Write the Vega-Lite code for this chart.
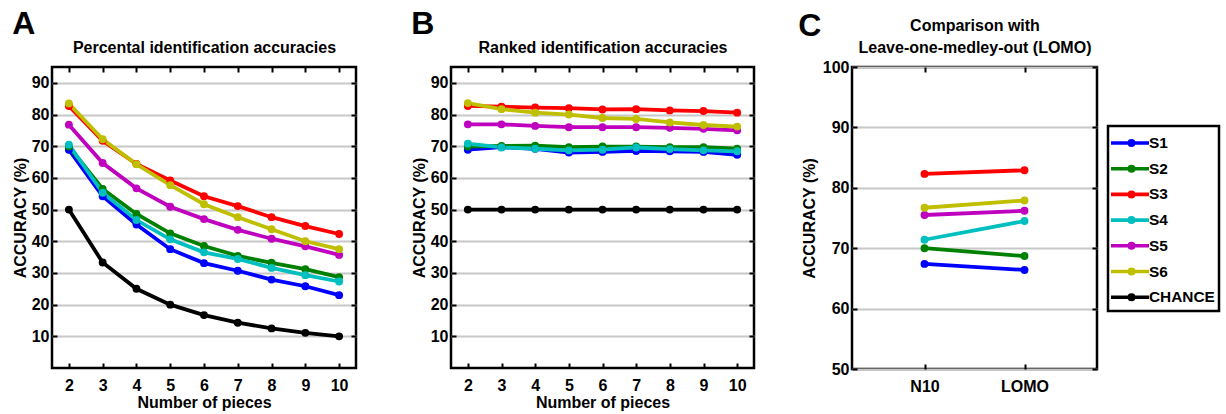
{
  "$schema": "https://vega.github.io/schema/vega-lite/v6.json",
  "padding": {"left": 10, "top": 6, "right": 2, "bottom": 2},
  "datasets": {
    "A": [
      {"n":2,"s":"S1","v":68.9},{"n":3,"s":"S1","v":54.2},{"n":4,"s":"S1","v":45.3},{"n":5,"s":"S1","v":37.5},{"n":6,"s":"S1","v":33.1},{"n":7,"s":"S1","v":30.7},{"n":8,"s":"S1","v":27.9},{"n":9,"s":"S1","v":25.8},{"n":10,"s":"S1","v":23.0},
      {"n":2,"s":"S2","v":69.9},{"n":3,"s":"S2","v":56.5},{"n":4,"s":"S2","v":48.6},{"n":5,"s":"S2","v":42.5},{"n":6,"s":"S2","v":38.5},{"n":7,"s":"S2","v":35.4},{"n":8,"s":"S2","v":33.2},{"n":9,"s":"S2","v":31.2},{"n":10,"s":"S2","v":28.7},
      {"n":2,"s":"S3","v":82.7},{"n":3,"s":"S3","v":71.7},{"n":4,"s":"S3","v":64.4},{"n":5,"s":"S3","v":59.2},{"n":6,"s":"S3","v":54.2},{"n":7,"s":"S3","v":51.1},{"n":8,"s":"S3","v":47.6},{"n":9,"s":"S3","v":44.8},{"n":10,"s":"S3","v":42.3},
      {"n":2,"s":"S4","v":70.5},{"n":3,"s":"S4","v":55.3},{"n":4,"s":"S4","v":46.7},{"n":5,"s":"S4","v":40.6},{"n":6,"s":"S4","v":36.5},{"n":7,"s":"S4","v":34.4},{"n":8,"s":"S4","v":31.6},{"n":9,"s":"S4","v":29.3},{"n":10,"s":"S4","v":27.3},
      {"n":2,"s":"S5","v":76.8},{"n":3,"s":"S5","v":64.7},{"n":4,"s":"S5","v":56.7},{"n":5,"s":"S5","v":50.9},{"n":6,"s":"S5","v":47.0},{"n":7,"s":"S5","v":43.6},{"n":8,"s":"S5","v":40.8},{"n":9,"s":"S5","v":38.4},{"n":10,"s":"S5","v":35.7},
      {"n":2,"s":"S6","v":83.5},{"n":3,"s":"S6","v":72.2},{"n":4,"s":"S6","v":64.3},{"n":5,"s":"S6","v":57.7},{"n":6,"s":"S6","v":51.7},{"n":7,"s":"S6","v":47.6},{"n":8,"s":"S6","v":43.8},{"n":9,"s":"S6","v":40.0},{"n":10,"s":"S6","v":37.5},
      {"n":2,"s":"CHANCE","v":50},{"n":3,"s":"CHANCE","v":33.3},{"n":4,"s":"CHANCE","v":25},{"n":5,"s":"CHANCE","v":20},{"n":6,"s":"CHANCE","v":16.7},{"n":7,"s":"CHANCE","v":14.3},{"n":8,"s":"CHANCE","v":12.5},{"n":9,"s":"CHANCE","v":11.1},{"n":10,"s":"CHANCE","v":10}
    ],
    "B": [
      {"n":2,"s":"S1","v":68.9},{"n":3,"s":"S1","v":69.7},{"n":4,"s":"S1","v":69.2},{"n":5,"s":"S1","v":68.0},{"n":6,"s":"S1","v":68.2},{"n":7,"s":"S1","v":68.5},{"n":8,"s":"S1","v":68.4},{"n":9,"s":"S1","v":68.2},{"n":10,"s":"S1","v":67.3},
      {"n":2,"s":"S2","v":69.9},{"n":3,"s":"S2","v":70.1},{"n":4,"s":"S2","v":70.2},{"n":5,"s":"S2","v":69.7},{"n":6,"s":"S2","v":69.9},{"n":7,"s":"S2","v":69.9},{"n":8,"s":"S2","v":69.7},{"n":9,"s":"S2","v":69.7},{"n":10,"s":"S2","v":69.2},
      {"n":2,"s":"S3","v":82.7},{"n":3,"s":"S3","v":82.5},{"n":4,"s":"S3","v":82.2},{"n":5,"s":"S3","v":82.0},{"n":6,"s":"S3","v":81.6},{"n":7,"s":"S3","v":81.7},{"n":8,"s":"S3","v":81.3},{"n":9,"s":"S3","v":81.1},{"n":10,"s":"S3","v":80.6},
      {"n":2,"s":"S4","v":70.8},{"n":3,"s":"S4","v":69.6},{"n":4,"s":"S4","v":69.2},{"n":5,"s":"S4","v":68.7},{"n":6,"s":"S4","v":68.9},{"n":7,"s":"S4","v":69.6},{"n":8,"s":"S4","v":69.1},{"n":9,"s":"S4","v":68.7},{"n":10,"s":"S4","v":68.4},
      {"n":2,"s":"S5","v":76.9},{"n":3,"s":"S5","v":76.9},{"n":4,"s":"S5","v":76.4},{"n":5,"s":"S5","v":76.0},{"n":6,"s":"S5","v":76.0},{"n":7,"s":"S5","v":76.0},{"n":8,"s":"S5","v":75.8},{"n":9,"s":"S5","v":75.5},{"n":10,"s":"S5","v":75.0},
      {"n":2,"s":"S6","v":83.6},{"n":3,"s":"S6","v":81.7},{"n":4,"s":"S6","v":80.6},{"n":5,"s":"S6","v":80.0},{"n":6,"s":"S6","v":78.9},{"n":7,"s":"S6","v":78.6},{"n":8,"s":"S6","v":77.5},{"n":9,"s":"S6","v":76.7},{"n":10,"s":"S6","v":76.2},
      {"n":2,"s":"CHANCE","v":50},{"n":3,"s":"CHANCE","v":50},{"n":4,"s":"CHANCE","v":50},{"n":5,"s":"CHANCE","v":50},{"n":6,"s":"CHANCE","v":50},{"n":7,"s":"CHANCE","v":50},{"n":8,"s":"CHANCE","v":50},{"n":9,"s":"CHANCE","v":50},{"n":10,"s":"CHANCE","v":50}
    ],
    "C": [
      {"c":"N10","s":"S1","v":67.4},{"c":"LOMO","s":"S1","v":66.4},
      {"c":"N10","s":"S2","v":70.0},{"c":"LOMO","s":"S2","v":68.7},
      {"c":"N10","s":"S3","v":82.3},{"c":"LOMO","s":"S3","v":82.9},
      {"c":"N10","s":"S4","v":71.4},{"c":"LOMO","s":"S4","v":74.5},
      {"c":"N10","s":"S5","v":75.5},{"c":"LOMO","s":"S5","v":76.2},
      {"c":"N10","s":"S6","v":76.7},{"c":"LOMO","s":"S6","v":77.9}
    ]
  },
  "spacing": 50,
  "resolve": {"scale": {"x": "independent", "y": "independent", "color": "independent"}, "axis": {"x": "independent", "y": "independent"}, "legend": {"color": "independent"}},
  "hconcat": [
    {
      "width": 304, "height": 301,
      "data": {"name": "A"},
      "title": {"text": "A", "anchor": "start", "frame": "bounds", "fontSize": 32, "fontWeight": "bold", "color": "black", "offset": -2},
      "resolve": {"axis": {"x": "independent", "y": "independent"}},
      "layer": [
        {
          "mark": {"type": "line", "strokeWidth": 3.8},
          "encoding": {
            "x": {"field": "n", "type": "quantitative", "scale": {"domain": [1.5, 10.5], "nice": false, "zero": false}, "axis": {"values": [2,3,4,5,6,7,8,9,10], "title": "Number of pieces", "grid": false}},
            "y": {"field": "v", "type": "quantitative", "scale": {"domain": [0, 95], "nice": false}, "axis": {"values": [10,20,30,40,50,60,70,80,90], "title": "ACCURACY (%)", "grid": true}},
            "color": {"field": "s", "type": "nominal", "scale": {"domain": ["S1","S2","S3","S4","S5","S6","CHANCE"], "range": ["#0000ff","#008000","#ff0000","#00bfbf","#bf00bf","#bfbf00","#000000"]}, "legend": null}
          }
        },
        {
          "mark": {"type": "point", "filled": true, "size": 62, "opacity": 1},
          "encoding": {
            "x": {"field": "n", "type": "quantitative", "scale": {"domain": [1.5, 10.5], "nice": false, "zero": false}, "axis": {"orient": "top", "labels": false, "grid": false, "values": [2,3,4,5,6,7,8,9,10], "title": "Percental identification accuracies", "titlePadding": 11}},
            "y": {"field": "v", "type": "quantitative", "scale": {"domain": [0, 95], "nice": false}, "axis": {"orient": "right", "labels": false, "grid": false, "values": [10,20,30,40,50,60,70,80,90], "title": null}},
            "color": {"field": "s", "type": "nominal", "legend": null}
          }
        }
      ]
    },
    {
      "spacing": 40,
      "resolve": {"scale": {"x": "independent", "y": "independent", "color": "independent"}, "axis": {"x": "independent", "y": "independent"}, "legend": {"color": "independent"}},
      "hconcat": [
        {
          "width": 303, "height": 301,
          "data": {"name": "B"},
          "title": {"text": "B", "anchor": "start", "frame": "bounds", "fontSize": 32, "fontWeight": "bold", "color": "black", "offset": -2},
          "resolve": {"axis": {"x": "independent", "y": "independent"}},
          "layer": [
            {
              "mark": {"type": "line", "strokeWidth": 3.8},
              "encoding": {
                "x": {"field": "n", "type": "quantitative", "scale": {"domain": [1.5, 10.5], "nice": false, "zero": false}, "axis": {"values": [2,3,4,5,6,7,8,9,10], "title": "Number of pieces", "grid": false}},
                "y": {"field": "v", "type": "quantitative", "scale": {"domain": [0, 95], "nice": false}, "axis": {"values": [10,20,30,40,50,60,70,80,90], "title": "ACCURACY (%)", "grid": true}},
                "color": {"field": "s", "type": "nominal", "scale": {"domain": ["S1","S2","S3","S4","S5","S6","CHANCE"], "range": ["#0000ff","#008000","#ff0000","#00bfbf","#bf00bf","#bfbf00","#000000"]}, "legend": null}
              }
            },
            {
              "mark": {"type": "point", "filled": true, "size": 62, "opacity": 1},
              "encoding": {
                "x": {"field": "n", "type": "quantitative", "scale": {"domain": [1.5, 10.5], "nice": false, "zero": false}, "axis": {"orient": "top", "labels": false, "grid": false, "values": [2,3,4,5,6,7,8,9,10], "title": "Ranked identification accuracies", "titlePadding": 11}},
                "y": {"field": "v", "type": "quantitative", "scale": {"domain": [0, 95], "nice": false}, "axis": {"orient": "right", "labels": false, "grid": false, "values": [10,20,30,40,50,60,70,80,90], "title": null}},
                "color": {"field": "s", "type": "nominal", "legend": null}
              }
            }
          ]
        },
        {
          "width": 245, "height": 302,
          "data": {"name": "C"},
          "title": {"text": "C", "anchor": "start", "frame": "bounds", "fontSize": 32, "fontWeight": "bold", "color": "black", "offset": -26, "dx": -3},
          "resolve": {"axis": {"x": "independent", "y": "independent"}},
          "layer": [
            {
              "mark": {"type": "line", "strokeWidth": 3.8},
              "encoding": {
                "x": {"field": "c", "type": "nominal", "sort": ["N10", "LOMO"], "scale": {"type": "point", "padding": 0.725, "domain": ["N10", "LOMO"]}, "axis": {"title": null, "labelAngle": 0, "grid": false}},
                "y": {"field": "v", "type": "quantitative", "scale": {"domain": [50, 100], "nice": false, "zero": false}, "axis": {"values": [50,60,70,80,90,100], "title": "ACCURACY (%)", "grid": true, "titlePadding": 5}},
                "color": {"field": "s", "type": "nominal", "scale": {"domain": ["S1","S2","S3","S4","S5","S6","CHANCE"], "range": ["#0000ff","#008000","#ff0000","#00bfbf","#bf00bf","#bfbf00","#000000"]},
                  "legend": {"orient": "none", "legendX": 256, "legendY": 59, "title": null, "symbolType": "M-1.27,0L2.18,0M0.79,0A0.2,0.2,0,1,1,0.39,0A0.2,0.2,0,1,1,0.79,0M0.654,0A0.064,0.064,0,1,1,0.526,0A0.064,0.064,0,1,1,0.654,0", "symbolSize": 484, "symbolStrokeWidth": 3.6, "labelFontSize": 15.4, "labelFontWeight": "bold", "labelColor": "black", "labelOffset": 11, "rowPadding": 2.7, "padding": 4, "strokeColor": "black"}}
              }
            },
            {
              "mark": {"type": "point", "filled": true, "size": 62, "opacity": 1},
              "encoding": {
                "x": {"field": "c", "type": "nominal", "sort": ["N10", "LOMO"], "scale": {"type": "point", "padding": 0.725, "domain": ["N10", "LOMO"]}, "axis": {"orient": "top", "labels": false, "grid": false, "title": ["Comparison with", "Leave-one-medley-out (LOMO)"], "titlePadding": 11, "titleLineHeight": 22}},
                "y": {"field": "v", "type": "quantitative", "scale": {"domain": [50, 100], "nice": false, "zero": false}, "axis": {"orient": "right", "labels": false, "grid": false, "values": [50,60,70,80,90,100], "title": null}},
                "color": {"field": "s", "type": "nominal", "legend": null}
              }
            }
          ]
        }
      ]
    }
  ],
  "config": {
    "font": "Liberation Sans",
    "view": {"stroke": "black", "strokeWidth": 2.5},
    "axis": {"domain": false, "tickColor": "black", "tickWidth": 2, "tickSize": -5, "labelFontSize": 16, "labelFontWeight": "bold", "labelColor": "black", "titleFontSize": 16, "titleFontWeight": "bold", "titleColor": "black", "gridColor": "#c8c8c8", "gridWidth": 2, "gridOpacity": 1},
    "axisY": {"labelPadding": 8, "titlePadding": 3},
    "axisX": {"labelPadding": 14, "titlePadding": 1},
    "legend": {"strokeWidth": 2.5}
  }
}
